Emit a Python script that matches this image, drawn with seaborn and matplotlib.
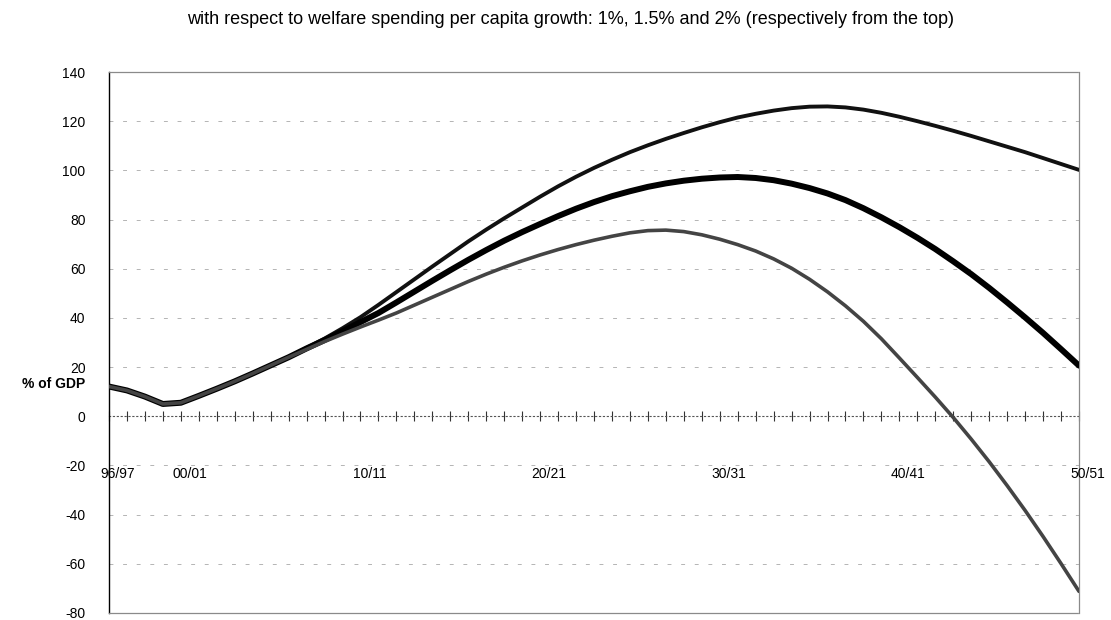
"""
Debt path chart: three welfare spending growth scenarios.
"""

import numpy as np
import pandas as pd
import matplotlib
matplotlib.use('Agg')
import matplotlib.pyplot as plt
import matplotlib.transforms as mtransforms
import seaborn as sns

TITLE = 'with respect to welfare spending per capita growth: 1%, 1.5% and 2% (respectively from the top)'

periods = [
    '96/97', '97/98', '98/99', '99/00', '00/01', '01/02', '02/03', '03/04', '04/05', '05/06',
    '06/07', '07/08', '08/09', '09/10', '10/11', '11/12', '12/13', '13/14', '14/15', '15/16',
    '16/17', '17/18', '18/19', '19/20', '20/21', '21/22', '22/23', '23/24', '24/25', '25/26',
    '26/27', '27/28', '28/29', '29/30', '30/31', '31/32', '32/33', '33/34', '34/35', '35/36',
    '36/37', '37/38', '38/39', '39/40', '40/41', '41/42', '42/43', '43/44', '44/45', '45/46',
    '46/47', '47/48', '48/49', '49/50', '50/51',
]
shown_labels = ['96/97', '00/01', '10/11', '20/21', '30/31', '40/41', '50/51']

common_start = [12.1, 10.5, 8.0, 5.0, 5.5, 8.3, 11.2, 14.2, 17.4, 20.7, 24.0]

growth_1pct = common_start + [
    27.8, 31.6, 35.8, 40.3, 45.3, 50.5, 55.7, 60.9, 66.0, 71.1, 75.9, 80.5, 84.9, 89.3,
    93.5, 97.4, 101.0, 104.3, 107.4, 110.2, 112.8, 115.2, 117.5, 119.6, 121.5, 123.0,
    124.3, 125.3, 125.9, 126.0, 125.6, 124.7, 123.4, 121.8, 120.0, 118.1, 116.1, 114.0,
    111.8, 109.6, 107.4, 105.0, 102.6, 100.2,
]
growth_15pct = common_start + [
    27.6, 31.0, 34.6, 38.3, 42.0, 46.3, 50.7, 55.1, 59.4, 63.6, 67.6, 71.4, 74.9, 78.2,
    81.4, 84.4, 87.1, 89.5, 91.5, 93.3, 94.7, 95.8, 96.6, 97.1, 97.3, 96.9, 96.0, 94.6,
    92.8, 90.6, 87.9, 84.6, 80.9, 76.9, 72.6, 68.0, 63.0, 57.8, 52.2, 46.3, 40.2, 33.9,
    27.3, 20.6,
]
growth_2pct = common_start + [
    27.2, 30.4, 33.4, 36.3, 39.1, 42.0, 45.2, 48.4, 51.6, 54.8, 57.8, 60.6, 63.2, 65.6,
    67.8, 69.8, 71.6, 73.2, 74.6, 75.5, 75.7, 75.1, 73.8, 72.0, 69.8, 67.2, 64.0, 60.2,
    55.7, 50.6, 44.9, 38.6, 31.5, 23.7, 15.8, 7.8, -0.5, -9.3, -18.5, -28.2, -38.3,
    -48.9, -59.9, -71.2,
]

y_ticks = [-80, -60, -40, -20, 0, 20, 40, 60, 80, 100, 120, 140]

series = {'1%': growth_1pct, '1.5%': growth_15pct, '2%': growth_2pct}
df = pd.concat(
    [pd.DataFrame({'idx': range(len(periods)), 'value': v, 'scenario': k}) for k, v in series.items()],
    ignore_index=True,
)

sns.set_theme(style='white')
plt.rcParams['font.family'] = ['Liberation Sans', 'DejaVu Sans']

fig = plt.figure(figsize=(11.11, 6.2), dpi=100)
ax = fig.add_axes([109 / 1111, 1 - 613 / 620, 970 / 1111, 541 / 620])

# Gridlines (behind the curves)
for yv in y_ticks:
    if yv in (y_ticks[0], y_ticks[-1], 0):
        continue
    ax.axhline(yv, color='#b4b4b4', lw=0.7, ls=(0, (4, 10)), zorder=0)

styles = {
    '1%': dict(color='#111111', lw=2.8),
    '1.5%': dict(color='#000000', lw=4.3),
    '2%': dict(color='#444444', lw=2.6),
}
for name in series:
    sns.lineplot(data=df[df['scenario'] == name], x='idx', y='value', ax=ax,
                 color=styles[name]['color'], lw=styles[name]['lw'],
                 legend=False, zorder=3)

ax.set_xlim(0, len(periods) - 1)
ax.set_ylim(y_ticks[0], y_ticks[-1])

# Frame: solid value axis on the left, light border elsewhere
for side in ['top', 'right', 'bottom']:
    ax.spines[side].set_color('#8a8a8a')
    ax.spines[side].set_linewidth(0.9)
    ax.spines[side].set_linestyle((0, (1, 1)))
ax.spines['left'].set_color('black')
ax.spines['left'].set_linewidth(1.0)

ax.set_xticks([])
ax.set_yticks(y_ticks)
ax.set_yticklabels([str(t) for t in y_ticks])
ax.tick_params(axis='y', length=0, pad=17, labelsize=10, colors='black')
ax.set_xlabel('')
ax.set_ylabel('')

# Category axis crossing at zero
zero_frac = (0 - y_ticks[0]) / (y_ticks[-1] - y_ticks[0])
cat_ax = ax.secondary_xaxis(zero_frac)
cat_ax.set_xticks(range(len(periods)))
cat_ax.set_xticklabels([])
cat_ax.tick_params(axis='x', direction='inout', length=7, width=0.8, color='#333333')
cat_ax.spines['bottom'].set_linestyle((0, (1, 2.5)))
cat_ax.spines['bottom'].set_color('#555555')
cat_ax.spines['bottom'].set_linewidth(0.8)

for lab in shown_labels:
    ax.text(periods.index(lab) + 0.5, -20.5, lab, ha='center', va='top',
            fontsize=10, color='black', zorder=4)

trans = mtransforms.blended_transform_factory(ax.transAxes, ax.transData)
ax.text(-24 / 970, 13.3, '% of GDP', transform=trans, ha='right', va='center',
        fontsize=10, fontweight='bold', color='black')

fig.text(571 / 1111, 1 - 19 / 620, TITLE, ha='center', va='center', fontsize=13, color='black')

fig.savefig('out.png', dpi=100)
